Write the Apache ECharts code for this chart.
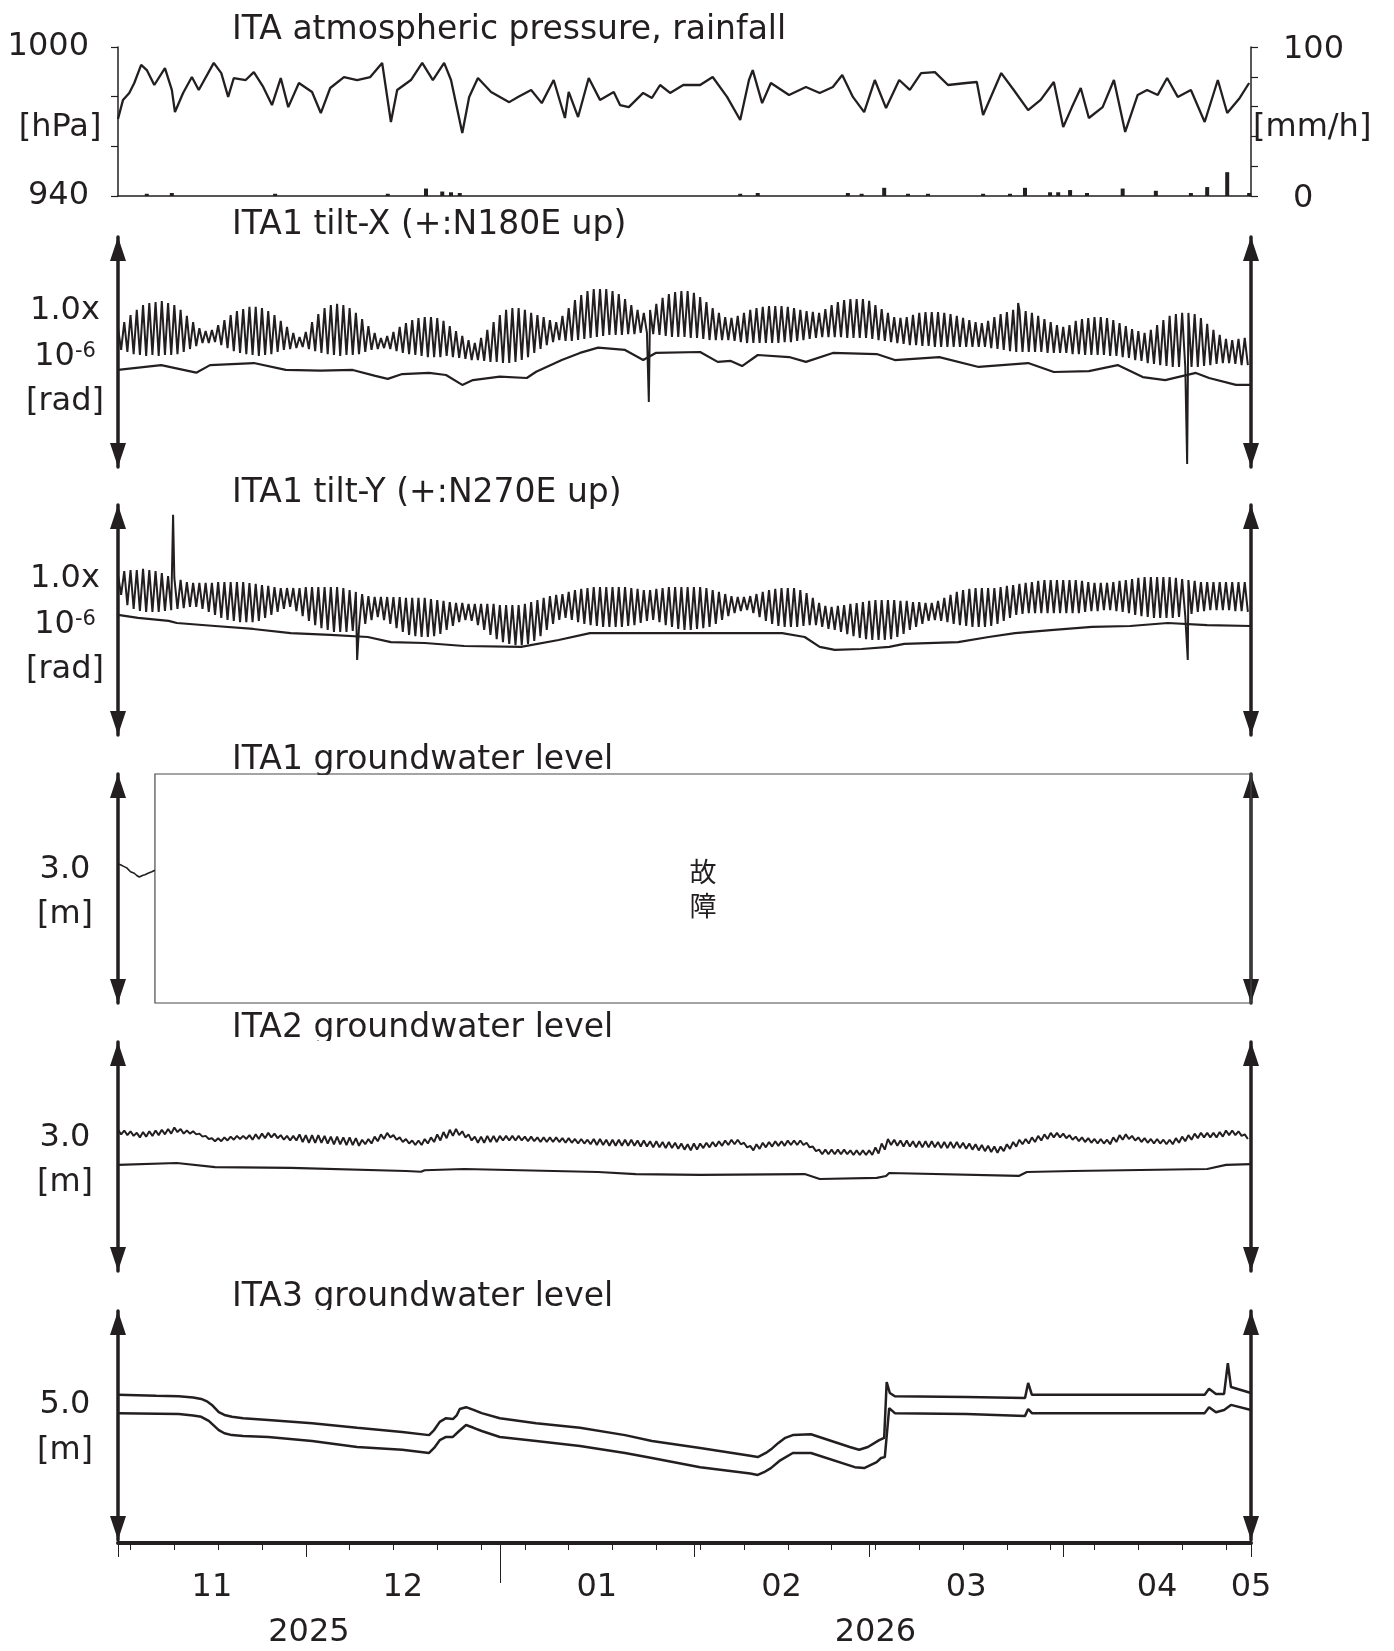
<!DOCTYPE html>
<html><head><meta charset="utf-8">
<script src="https://cdn.jsdelivr.net/npm/echarts@6/dist/echarts.min.js"></script>
<style>html,body{margin:0;padding:0;background:#fff}#c{width:1394px;height:1651px}</style>
</head><body><div id="c"></div>
<script>
// ===== DATA (x = days since 2025-11-01) =====
const monthStarts = [0, 30, 61, 92, 120, 151, 181];
const monthLabels = [['11', 15], ['12', 45.5], ['01', 76.5], ['02', 106], ['03', 135.5], ['04', 166], ['05', 181]];
const yearLabels = [['2025', 30.5], ['2026', 121]];
const yearBoundary = 61;
const firstMonday = 2;
const pressureTickLabels = [940, 1000];
const rainTickLabels = [0, 100];

// atmospheric pressure [day, hPa]
const pressure = [[0,971.0],[0.3,971.8],[0.8,978.7],[1.8,981.5],[2.6,985.5],[3.7,992.8],[4.6,990.7],[5.8,984.7],[7.5,991.5],[8.6,982.7],[9.1,973.8],[10.4,981.5],[11.8,987.9],[12.9,982.7],[15.3,993.6],[16.5,989.5],[17.6,979.9],[18.5,987.5],[20.4,986.7],[21.7,989.9],[23.2,983.9],[24.6,976.6],[26.0,987.5],[27.2,975.8],[28.9,985.5],[31.0,981.9],[32.4,973.4],[33.9,983.5],[36.1,987.9],[38.2,986.7],[40.3,987.9],[42.2,993.6],[43.6,969.8],[44.6,982.7],[46.8,986.7],[48.6,993.6],[50.3,986.7],[52.1,993.6],[53.2,986.7],[55.0,965.4],[56.1,979.9],[57.5,987.5],[59.6,981.9],[62.5,977.8],[63.9,979.9],[66.0,982.7],[67.7,977.4],[69.6,986.7],[71.4,971.4],[72.0,981.9],[73.5,971.8],[75.2,987.5],[77.0,978.7],[79.2,981.9],[80.2,976.6],[81.6,975.8],[83.9,981.5],[85.3,979.5],[86.6,984.7],[88.2,981.5],[90.3,984.7],[93.0,984.7],[95.0,987.9],[97.3,979.9],[99.4,970.6],[100.8,986.7],[101.4,990.7],[102.9,977.4],[104.3,985.5],[107.2,980.7],[109.9,983.9],[112.1,981.5],[114.2,983.9],[115.7,988.7],[117.4,979.9],[119.2,973.8],[120.9,986.7],[122.7,975.4],[124.8,986.7],[126.5,982.7],[128.3,989.5],[130.5,989.9],[132.6,984.7],[135.5,985.5],[137.2,985.9],[138.2,972.6],[141.1,989.5],[143.1,982.7],[145.4,974.6],[147.4,978.7],[149.5,985.9],[151.0,967.8],[152.4,975.8],[153.8,983.5],[155.1,971.4],[157.3,975.8],[159.1,986.7],[160.9,965.8],[162.9,980.7],[164.4,982.7],[166.1,980.7],[167.6,987.5],[169.3,979.9],[171.4,982.7],[173.6,969.8],[175.7,986.7],[177.2,973.4],[179.2,979.5],[180.7,985.5]];

// rainfall [day, mm/h]
const rainfall = [[4.6,1.5],[8.6,2.0],[25.1,1.5],[43.1,1.5],[49.2,5.0],[51.8,3.0],[53.2,2.5],[54.6,2.0],[99.4,1.5],[102.2,2.0],[116.6,2.0],[118.8,1.5],[122.4,5.5],[126.2,1.5],[129.4,1.5],[138.2,1.5],[142.5,1.5],[144.9,5.5],[148.9,2.5],[150.2,2.5],[152.1,4.0],[154.8,2.0],[160.5,5.0],[165.8,3.5],[171.4,2.0],[174.0,6.0],[177.2,16.0],[180.7,2.0]];

// ITA1 tilt-X [nrad]: daily tidal highs and lows, glitches, and smooth trace
const tiltXHigh = [604,630,661,683,704,713,717,722,713,704,683,657,630,604,591,
596,617,639,661,678,687,696,696,691,678,661,635,609,583,565,
587,630,665,691,704,709,704,691,670,643,613,583,561,
570,587,609,626,639,648,652,652,648,635,613,591,570,552,539,
561,596,630,661,683,691,691,683,670,661,652,639,630,
657,691,726,748,765,774,774,774,765,752,730,704,683,670,
683,709,735,752,761,765,765,757,739,717,691,670,652,
648,657,670,683,691,696,700,700,700,696,691,683,678,674,670,
687,704,717,726,730,730,730,722,704,687,670,652,
648,652,661,670,674,674,674,670,665,657,648,639,630,626,
635,652,665,674,683,683,678,670,657,643,630,617,609,
617,635,643,648,652,652,648,639,626,613,600,591,583,
596,617,639,657,665,670,670,665,648,622,596,574,557,552,557,561];
const tiltXLow = [509,500,491,487,483,487,483,487,487,491,500,513,526,539,539,
543,530,517,504,496,491,487,483,487,491,500,509,513,517,522,
513,504,496,491,487,483,487,487,491,500,509,513,517,
513,504,496,491,487,483,478,478,478,483,478,474,470,465,465,
461,457,457,452,452,457,465,478,496,513,530,543,552,
548,548,552,557,561,565,570,574,574,574,578,578,583,583,
578,574,570,565,565,565,561,561,557,552,552,552,552,
548,543,539,539,539,539,539,539,543,543,548,552,557,561,565,
565,565,565,561,561,561,561,557,552,548,543,539,
535,530,530,526,526,522,522,522,522,522,522,522,522,522,
517,513,509,504,500,500,500,500,500,496,496,496,496,
491,491,487,487,487,487,483,483,478,474,465,461,452,
448,443,439,435,435,435,435,435,439,443,448,452,452,448,443,443];
const tiltXSpikes = [[84.8,283],[143.8,713],[170.8,13]];
const tiltXTrend = [[0,422],[6.9,443],[12.5,410],[14.7,443],[21.7,452],[26.8,422],[32.4,419],[37.5,422],[41.1,396],[43.1,383],[45.4,404],[49.7,409],[52.4,400],[55.0,357],[56.7,378],[61.0,393],[65.3,387],[66.8,414],[70.9,465],[73.8,496],[76.7,519],[81.0,509],[83.9,465],[85.9,496],[93.0,500],[95.8,457],[97.9,461],[99.7,439],[102.2,487],[107.2,478],[109.9,457],[114.2,496],[121.2,491],[124.1,465],[131.2,478],[137.5,435],[145.4,452],[149.5,413],[155.1,417],[159.7,443],[163.7,391],[167.3,378],[169.3,391],[172.2,409],[174.3,387],[178.6,357],[181,357]];

// ITA1 tilt-Y [nrad]
const tiltYHigh = [696,713,717,717,722,717,713,704,691,683,674,665,661,
661,661,661,665,665,665,665,665,661,657,652,648,643,639,639,
639,639,643,643,643,643,643,643,639,630,622,613,604,600,
600,600,600,600,596,596,596,596,591,587,583,578,574,574,570,
570,570,570,570,565,565,565,565,570,578,587,596,604,609,
613,622,630,635,639,643,643,643,643,643,643,639,635,630,630,635,
639,643,643,643,643,643,643,639,630,622,613,604,600,600,
604,613,622,630,635,639,639,639,630,617,596,574,561,
557,561,565,570,574,578,583,587,587,587,587,583,583,578,578,
574,574,583,596,609,622,630,635,639,639,639,639,643,648,652,657,661,
665,670,674,674,674,674,674,674,670,665,661,661,661,665,
670,674,678,683,687,687,687,687,687,683,678,674,670,665,665,665,665,665,665,665,665];
const tiltYLow = [609,565,548,539,535,535,535,539,543,548,552,557,557,
548,535,522,509,500,496,491,491,491,496,509,522,535,548,557,
539,517,496,478,465,457,448,448,448,452,465,483,500,513,
500,483,465,448,435,430,426,426,430,439,457,474,491,500,496,
478,457,435,417,404,396,391,391,396,409,430,457,483,500,
509,500,491,483,478,474,470,470,470,470,474,478,487,496,500,491,
478,470,461,457,457,461,465,470,483,500,517,530,539,543,
530,513,496,483,474,470,470,470,474,478,478,470,461,
457,448,439,430,422,417,413,413,413,417,426,439,457,470,483,
496,500,496,491,483,478,474,470,470,470,474,483,496,509,522,526,530,
530,530,530,530,530,530,530,530,535,539,539,543,543,539,
535,530,522,517,513,509,509,509,509,513,517,526,535,539,543,543,543,543,539,539,535];
const tiltYSpikes = [[8.8,957],[38.2,326],[170.9,326]];
const tiltYTrend = [[0,522],[3.2,509],[8.1,496],[9.4,487],[15.5,474],[21.6,461],[27.6,443],[33.9,435],[39.9,426],[43.6,404],[49.0,400],[55.3,387],[64.4,383],[70.4,413],[75.4,443],[82.7,443],[91.4,443],[106.1,443],[109.7,426],[112.1,383],[114.5,370],[118.8,374],[123.2,383],[125.6,396],[134.2,404],[139.1,426],[143.3,443],[149.5,457],[155.6,470],[161.7,474],[167.7,487],[174.0,478],[181,474]];

// ITA1 groundwater level [cm] (instrument failure after day 5.9)
const ita1Level = [[0,182],[0.4,181],[0.9,179],[1.4,177],[2.0,172],[2.6,170],[3.0,167],[3.4,165],[3.9,167],[4.3,168],[4.8,170],[5.4,172],[5.9,174]];
const ita1FaultStart = 5.9;
const ita1FaultEnd = 181;
const faultText = '故\n障';

// ITA2 groundwater level [cm]
const ita2High = [185,184,183,181,182,183,184,185,186,188,186,
184,183,180,177,174,174,175,176,177,177,
178,179,180,181,180,178,177,177,
179,178,178,178,177,176,176,175,175,174,
172,173,176,179,181,178,175,173,171,171,173,175,
179,182,185,186,183,179,176,176,177,177,
177,177,177,177,176,176,175,175,175,175,174,174,173,173,172,
173,173,172,172,172,172,172,171,171,170,170,169,169,168,167,166,167,
167,168,169,170,171,172,172,168,164,166,168,169,170,170,171,171,171,168,
163,159,159,159,159,159,158,158,158,158,
162,167,173,172,171,171,170,170,170,170,169,169,169,169,168,167,166,165,164,163,
163,166,169,172,173,175,177,179,181,181,180,178,176,175,174,173,173,172,175,178,
179,177,175,174,173,173,172,172,174,176,178,180,181,181,181,182,184,184,183,179];
const ita2Low = [179,178,177,175,176,177,178,179,180,182,180,
180,179,176,173,170,170,171,172,173,173,
172,173,174,175,174,172,171,171,
169,168,168,168,167,166,166,165,165,164,
166,167,170,173,175,172,169,167,165,165,167,169,
171,174,177,178,175,171,168,168,169,169,
171,171,171,171,170,170,169,169,169,169,168,168,167,167,166,
165,165,164,164,164,164,164,163,163,162,162,161,161,160,159,158,159,
161,162,163,164,165,166,166,162,158,160,162,163,164,164,165,165,165,162,
157,153,153,153,153,153,152,152,152,152,
154,159,165,164,163,163,162,162,162,162,161,161,161,161,160,159,158,157,156,155,
157,160,163,166,167,169,171,173,175,175,174,172,170,169,168,167,167,166,169,172,
173,171,169,168,167,167,166,166,168,170,172,174,175,175,175,176,178,178,177,173];
const ita2Trend = [[0,139],[9.4,141.5],[15.5,136],[27.6,135],[46.0,131],[48.4,130],[49.0,132],[55.3,133.6],[76.7,129.7],[82.7,127],[93.0,125.8],[109.7,127],[112.1,120.5],[121.2,122],[122.7,124.5],[123.2,128.4],[143.9,124.5],[145.2,129.7],[152.6,131],[174.0,133.6],[177.0,139],[181,140]];

// ITA3 groundwater level [cm], two traces
const ita3Upper = [[0,317],[6.1,315],[9.7,314],[12.0,311],[13.3,308],[14.3,302],[15.0,295],[16.1,279],[17.0,273],[18.2,269],[20.0,266],[24.0,262],[31.0,255],[38.2,245],[45.4,236],[49.7,229],[50.5,240],[51.4,258],[52.4,266],[53.5,264],[54.1,272],[54.6,286],[55.6,290],[56.8,284],[58.1,277],[61.0,266],[66.8,255],[73.8,245],[81.0,229],[85.3,216],[93.0,201],[101.0,184],[102.2,181],[103.5,190],[104.5,200],[105.5,212],[106.6,223],[107.8,229],[110.7,231],[116.9,203],[118.4,197],[119.8,203],[121.6,218],[122.4,223],[122.8,345],[123.3,321],[124.1,314],[135.5,312],[144.9,310],[145.4,343],[146.0,317],[156.5,317],[173.6,317],[174.3,330],[175.4,319],[176.7,319],[177.3,386],[177.8,334],[181,321]];
const ita3Lower = [[0,277],[9.7,275],[12.0,272],[13.3,269],[14.5,260],[16.1,240],[17.0,233],[18.2,229],[20.0,227],[24.0,225],[31.0,216],[38.2,203],[45.4,197],[49.7,190],[50.5,201],[51.4,218],[52.4,225],[53.5,225],[54.5,238],[55.6,251],[56.8,245],[58.1,238],[61.0,225],[66.8,216],[73.8,205],[81.0,190],[85.3,179],[93.0,159],[101.0,145],[102.2,142],[103.2,148],[104.3,157],[105.8,174],[107.8,190],[110.7,190],[117.7,159],[119.2,157],[121.2,170],[121.9,179],[122.5,181],[123.2,288],[124.1,277],[135.5,275],[144.9,271],[145.4,286],[146.0,277],[156.5,277],[173.6,277],[174.3,290],[175.4,279],[176.7,284],[177.8,295],[181,284]];

// ===== STYLE / LAYOUT =====
const INK = '#231f20';
const FONT = "'DejaVu Sans', 'Liberation Sans', sans-serif";
const FS = 32;
const TFS = 33;
const L = 118, R = 1394 - 1251;
const panelTops = [47, 237, 505, 774, 1042, 1311];
const panelHeights = [149, 230, 230, 229, 229, 229];

function zigzag(hi, lo, spikes) {
  const out = [];
  for (let i = 0; i < hi.length; i++) { out.push([i, hi[i]]); out.push([i + 0.5, lo[i]]); }
  (spikes || []).forEach(s => out.push(s));
  out.sort((a, b) => a[0] - b[0]);
  return out;
}

const halfDays = Array.from({length: 363}, (_, i) => String(i / 2));
const isWeek = i => i % 2 === 0 && i / 2 >= firstMonday && (i / 2 - firstMonday) % 7 === 0;
const isMonth = i => monthStarts.indexOf(i / 2) >= 0;
const isYear = i => i / 2 === yearBoundary;
const labelAt = (arr, i) => { const m = arr.find(a => a[1] * 2 === i); return m ? m[0] : ''; };

const grids = panelTops.map((t, i) => ({left: L, right: R, top: t, height: panelHeights[i]}));
grids.push({left: L, right: R, top: 1500, height: 43});

const xAxes = panelTops.map((t, i) => ({
  type: 'value', gridIndex: i, min: 0, max: 181, show: i === 0,
  axisLine: {show: i === 0, onZero: false, lineStyle: {color: INK, width: 1.5}},
  axisTick: {show: false}, axisLabel: {show: false}, splitLine: {show: false}
}));
const timeAxisBase = {type: 'category', gridIndex: 6, data: halfDays, boundaryGap: false, position: 'bottom', splitLine: {show: false}};
xAxes.push(Object.assign({}, timeAxisBase, {
  axisLine: {show: true, onZero: false, lineStyle: {color: INK, width: 4}},
  axisTick: {show: true, interval: i => isWeek(i), length: 7, lineStyle: {color: INK, width: 1}},
  axisLabel: {show: false}
}));
xAxes.push(Object.assign({}, timeAxisBase, {
  axisLine: {show: false},
  axisTick: {show: true, interval: i => isMonth(i), length: 14, lineStyle: {color: INK, width: 1}},
  axisLabel: {show: true, interval: i => labelAt(monthLabels, i) !== '', formatter: (v, i) => labelAt(monthLabels, i),
    margin: 29, fontSize: FS, fontFamily: FONT, color: INK}
}));
xAxes.push(Object.assign({}, timeAxisBase, {
  axisLine: {show: false},
  axisTick: {show: true, interval: i => isYear(i), length: 40, lineStyle: {color: INK, width: 1}},
  axisLabel: {show: true, interval: i => labelAt(yearLabels, i) !== '', formatter: (v, i) => labelAt(yearLabels, i),
    margin: 74, fontSize: FS, fontFamily: FONT, color: INK}
}));

function arrowAxis(grid, pos, min, max) {
  return {type: 'value', gridIndex: grid, position: pos, min: min, max: max,
    axisLine: {show: true, onZero: false, symbol: ['triangle', 'triangle'], symbolSize: [16, 24], symbolOffset: [12, -12],
      lineStyle: {color: INK, width: 3.5}},
    axisTick: {show: false}, axisLabel: {show: false}, splitLine: {show: false}};
}
const yAxes = [
  {type: 'value', gridIndex: 0, position: 'left', min: 940, max: 1000, interval: 20,
    axisLine: {show: true, onZero: false, lineStyle: {color: INK, width: 1.5}},
    axisTick: {show: true, length: 7, lineStyle: {color: INK, width: 1.2}},
    axisLabel: {show: true, margin: 29, fontSize: FS, fontFamily: FONT, color: INK, padding: [6, 0, 0, 0],
      formatter: v => pressureTickLabels.indexOf(v) >= 0 ? String(v) : ''},
    splitLine: {show: false}},
  {type: 'value', gridIndex: 0, position: 'right', min: 0, max: 100, interval: 20,
    axisLine: {show: true, onZero: false, lineStyle: {color: INK, width: 1.5}},
    axisTick: {show: true, length: 7, lineStyle: {color: INK, width: 1.2}},
    axisLabel: {show: true, margin: 32, fontSize: FS, fontFamily: FONT, color: INK, padding: [6, 0, 0, 0],
      formatter: v => rainTickLabels.indexOf(v) < 0 ? '' : (v === 0 ? '{z|0}' : String(v)),
      rich: {z: {fontSize: FS, fontFamily: FONT, color: INK, padding: [0, 0, 0, 10]}}},
    splitLine: {show: false}},
  arrowAxis(1, 'left', 0, 1000), arrowAxis(1, 'right', 0, 1000),
  arrowAxis(2, 'left', 0, 1000), arrowAxis(2, 'right', 0, 1000),
  arrowAxis(3, 'left', 0, 300), arrowAxis(3, 'right', 0, 300),
  arrowAxis(4, 'left', 0, 300), arrowAxis(4, 'right', 0, 300),
  arrowAxis(5, 'left', 0, 500), arrowAxis(5, 'right', 0, 500),
  {type: 'value', gridIndex: 6, show: false}
];

function line(xi, yi, data, width) {
  return {type: 'line', xAxisIndex: xi, yAxisIndex: yi, data: data, showSymbol: false, symbol: 'none',
    silent: true, animation: false, lineStyle: {color: INK, width: width}, emphasis: {disabled: true}};
}
const ita1Series = line(3, 6, ita1Level, 1.6);
ita1Series.clip = false;
ita1Series.markArea = {silent: true,
  itemStyle: {color: 'rgba(0,0,0,0)', borderColor: '#4a4a4a', borderWidth: 1.2},
  label: {show: true, position: 'inside', formatter: faultText, fontSize: 27, lineHeight: 34,
    fontFamily: "'Noto Sans CJK JP', sans-serif", color: INK},
  data: [[{xAxis: ita1FaultStart, yAxis: 0}, {xAxis: ita1FaultEnd, yAxis: 300}]]};

const series = [
  line(0, 0, pressure, 2.3),
  {type: 'bar', xAxisIndex: 0, yAxisIndex: 1, data: rainfall, barWidth: 4, silent: true, animation: false,
    itemStyle: {color: INK}},
  line(1, 2, zigzag(tiltXHigh, tiltXLow, tiltXSpikes), 2),
  line(1, 2, tiltXTrend, 2.2),
  line(2, 4, zigzag(tiltYHigh, tiltYLow, tiltYSpikes), 2),
  line(2, 4, tiltYTrend, 2.2),
  ita1Series,
  line(4, 8, zigzag(ita2High, ita2Low), 2),
  line(4, 8, ita2Trend, 2.2),
  line(5, 10, ita3Upper, 2.5),
  line(5, 10, ita3Lower, 2.5)
];

function txt(x, y, text, align, size) {
  return {type: 'text', x: x, y: y, silent: true, z: 1,
    style: {text: text, fill: INK, fontSize: size || FS, fontFamily: FONT,
      align: align, textAlign: align, verticalAlign: 'middle', textVerticalAlign: 'middle'}};
}
const titleYs = [30, 225, 493, 760, 1028, 1297];
const titles = ['ITA atmospheric pressure, rainfall', 'ITA1 tilt-X (+:N180E up)', 'ITA1 tilt-Y (+:N270E up)',
  'ITA1 groundwater level', 'ITA2 groundwater level', 'ITA3 groundwater level'];
const graphics = titles.map((t, i) => txt(232, titleYs[i], t, 'left', TFS));
// groundwater titles are cut off at the top edge of their panels in the original
[[775, 20], [1041, 20], [1310, 20]].forEach(m => graphics.push({type: 'rect', silent: true, z: 2,
  shape: {x: 225, y: m[0], width: 420, height: m[1]}, style: {fill: '#ffffff'}}));
graphics.push(txt(60, 128, '[hPa]', 'center'));
graphics.push(txt(1253, 128, '[mm/h]', 'left'));
function supText(x, y) {
  const g = txt(x, y, '{a|10}{b|-6}', 'center');
  g.style.rich = {a: {fontSize: FS, fontFamily: FONT, fill: INK, color: INK},
    b: {fontSize: 21, fontFamily: FONT, fill: INK, color: INK, verticalAlign: 'top'}};
  return g;
}
[[311, 357, 402], [579, 625, 670]].forEach(ys => {
  graphics.push(txt(65, ys[0], '1.0x', 'center'));
  graphics.push(supText(65, ys[1]));
  graphics.push(txt(65, ys[2], '[rad]', 'center'));
});
[[870, 915, '3.0'], [1138, 1183, '3.0'], [1405, 1451, '5.0']].forEach(r => {
  graphics.push(txt(65, r[0], r[2], 'center'));
  graphics.push(txt(65, r[1], '[m]', 'center'));
});

const chart = echarts.init(document.getElementById('c'), null, {renderer: 'canvas'});
chart.setOption({
  animation: false,
  backgroundColor: '#ffffff',
  grid: grids,
  xAxis: xAxes,
  yAxis: yAxes,
  series: series,
  graphic: graphics
});
</script>
</body></html>
